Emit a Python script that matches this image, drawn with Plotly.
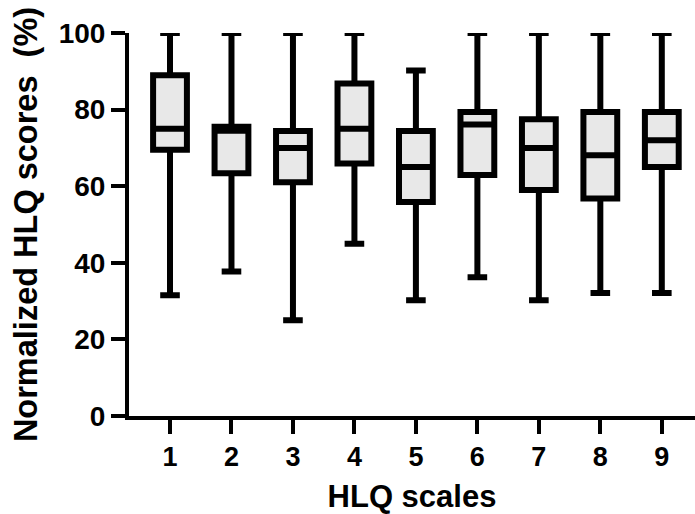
import plotly.graph_objects as go

scales = [1, 2, 3, 4, 5, 6, 7, 8, 9]
tick_labels = ["1", "2", "3", "4", "5", "6", "7", "8", "9"]
q1 = [69.5, 63.4, 61.0, 65.9, 55.9, 62.9, 59.0, 56.8, 65.0]
median = [75.0, 74.5, 70.0, 75.0, 65.0, 76.1, 70.0, 68.1, 72.0]
q3 = [89.0, 75.5, 74.4, 86.8, 74.4, 79.4, 77.5, 79.4, 79.4]
lower = [31.5, 37.7, 25.0, 45.0, 30.2, 36.2, 30.2, 32.1, 32.1]
upper = [100, 100, 100, 100, 90.2, 100, 100, 100, 100]

fig = go.Figure()
fig.add_trace(go.Box(
    x=scales, q1=q1, median=median, q3=q3,
    lowerfence=lower, upperfence=upper,
    boxpoints=False,
    width=0.55, whiskerwidth=0.58,
    fillcolor="#e8e8e8",
    line=dict(color="black", width=6),
    showlegend=False,
))

font_family = "Liberation Sans, Arial, sans-serif"
fig.update_layout(
    width=695, height=514,
    margin=dict(l=129, r=0, t=33, b=98),
    plot_bgcolor="white", paper_bgcolor="white",
    font=dict(family=font_family, color="black"),
    xaxis=dict(
        range=[0.333, 9.54],
        tickmode="array", tickvals=scales, ticktext=tick_labels,
        showgrid=False, zeroline=False,
        showline=True, linecolor="black", linewidth=4,
        ticks="outside", ticklen=14, tickwidth=4, tickcolor="black",
        tickfont=dict(size=27, weight="bold", family=font_family),
        title=dict(text="HLQ scales", font=dict(size=31, weight="bold", family=font_family), standoff=18),
    ),
    yaxis=dict(
        range=[0, 100],
        tickvals=[0, 20, 40, 60, 80, 100],
        showgrid=False, zeroline=False,
        showline=True, linecolor="black", linewidth=4,
        ticks="outside", ticklen=14, tickwidth=4, tickcolor="black",
        tickfont=dict(size=28, weight="bold", family=font_family),
        title=dict(text="Normalized HLQ scores  (%)", font=dict(size=32.5, weight="bold", family=font_family), standoff=12),
    ),
)

fig.write_html("out.html", config={"displayModeBar": False},
               post_script="document.body.style.margin='0px';document.body.style.overflow='hidden';")
